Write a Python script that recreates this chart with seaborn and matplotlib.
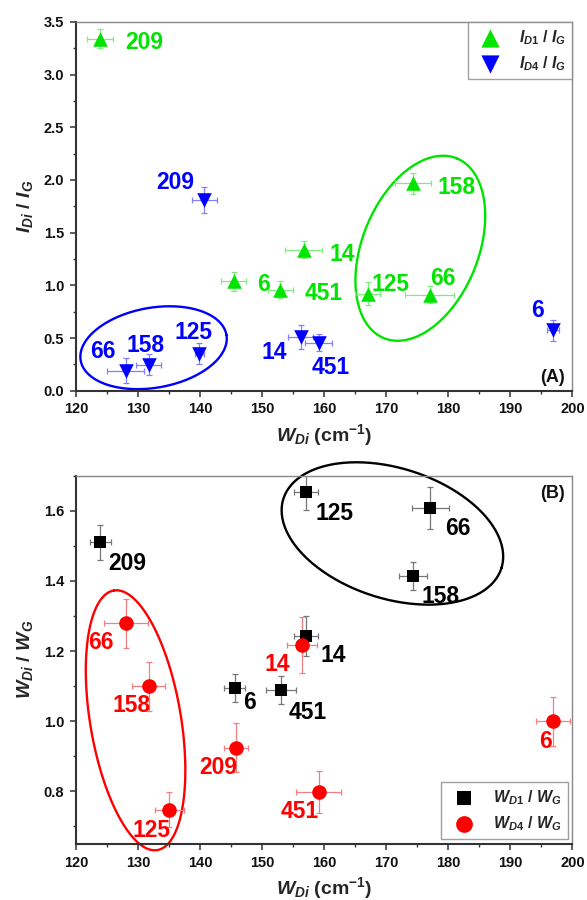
import numpy as np
import pandas as pd
import matplotlib
matplotlib.use('Agg')
import matplotlib.pyplot as plt
import seaborn as sns
from matplotlib.ticker import MultipleLocator

# ---------------- data : panel (A) ----------------
id1_labels = ['209', '6', '451', '14', '125', '66', '158']
id1_w = [123.9, 145.4, 152.9, 156.7, 167.0, 177.0, 174.3]
id1_w_err = [2.1, 2.0, 2.0, 2.95, 2.0, 4.0, 2.95]
id1_ratio = [3.34, 1.04, 0.96, 1.34, 0.92, 0.91, 1.97]
id1_ratio_err = [0.09, 0.09, 0.08, 0.08, 0.11, 0.08, 0.10]

id4_labels = ['209', '66', '158', '125', '14', '451', '6']
id4_w = [140.7, 128.0, 131.7, 139.9, 156.2, 159.1, 196.9]
id4_w_err = [2.0, 2.95, 2.0, 0.8, 2.0, 2.2, 1.0]
id4_ratio = [1.81, 0.19, 0.245, 0.35, 0.51, 0.455, 0.575]
id4_ratio_err = [0.12, 0.12, 0.10, 0.10, 0.11, 0.08, 0.10]

# ---------------- data : panel (B) ----------------
wd1_labels = ['209', '125', '66', '158', '14', '6', '451']
wd1_w = [123.9, 157.1, 177.1, 174.3, 157.1, 145.6, 153.0]
wd1_w_err = [1.7, 1.9, 3.0, 2.2, 1.9, 1.7, 2.4]
wd1_ratio = [1.51, 1.652, 1.607, 1.413, 1.243, 1.094, 1.088]
wd1_ratio_err = [0.05, 0.05, 0.06, 0.04, 0.058, 0.04, 0.04]

wd4_labels = ['66', '158', '125', '209', '14', '451', '6']
wd4_w = [128.1, 131.7, 135.05, 145.8, 156.4, 159.1, 196.9]
wd4_w_err = [3.55, 2.7, 2.3, 2.0, 2.4, 3.6, 2.7]
wd4_ratio = [1.279, 1.100, 0.748, 0.924, 1.217, 0.798, 1.000]
wd4_ratio_err = [0.07, 0.07, 0.05, 0.07, 0.08, 0.06, 0.07]

# ---------------- label offsets (pixels) ----------------
id1_off = [(44, -1), (30, -1), (44, -1.5), (39, -2), (22.6, 11.7), (13, 18.6), (44, -2)]
id4_off = [(-29, 20), (-23, 22), (-3, 22), (-6, 24), (-26, -13), (12.5, -22), (-16, 22)]
wd1_off = [(27.5, -18.6), (28, -19), (27.5, -18), (28, -18), (27, -16.7), (15, -11.5), (27.3, -19.6)]
wd4_off = [(-25, -17), (-17.5, -17), (-17.6, -18.3), (-17.7, -17.4), (-24.5, -17.3), (-19, -16.5), (-8, -18.3)]

GREEN, GREEN_L = '#00e400', '#80ec80'
BLUE, BLUE_L = '#0000ff', '#8080ff'
BLACK, BLACK_L = '#000000', '#777777'
RED, RED_L = '#ff0000', '#f08080'

sns.set_theme(style='ticks')
plt.rcParams['font.family'] = ['Liberation Sans', 'DejaVu Sans']
plt.rcParams['font.weight'] = 'bold'
plt.rcParams['mathtext.fontset'] = 'custom'
plt.rcParams['mathtext.it'] = 'Liberation Sans:italic:bold'
plt.rcParams['mathtext.rm'] = 'Liberation Sans:bold'
plt.rcParams['mathtext.bf'] = 'Liberation Sans:bold'
plt.rcParams['mathtext.sf'] = 'Liberation Sans:bold'

fig = plt.figure(figsize=(5.87, 9.0), dpi=100)
axA = fig.add_axes([0.1295, 0.5659, 0.8455, 0.4097])
axB = fig.add_axes([0.1295, 0.0622, 0.8455, 0.4094])


def style_axes(ax, ylim, ymaj, ymin):
    ax.set_xlim(120, 200)
    ax.set_ylim(*ylim)
    ax.xaxis.set_major_locator(MultipleLocator(10))
    ax.xaxis.set_minor_locator(MultipleLocator(5))
    ax.yaxis.set_major_locator(MultipleLocator(ymaj))
    ax.yaxis.set_minor_locator(MultipleLocator(ymin))
    ax.yaxis.set_major_formatter(matplotlib.ticker.FormatStrFormatter('%.1f'))
    ax.tick_params(which='major', direction='out', length=4.5, width=1.1,
                   labelsize=10.5, pad=4, color='#333333', labelcolor='#111111')
    ax.tick_params(which='minor', direction='out', length=2.5, width=1.0, color='#333333')
    ax.tick_params(top=False, right=False, which='both')
    for s in ['left', 'bottom']:
        ax.spines[s].set_color('#333333')
        ax.spines[s].set_linewidth(1.5)
    for s in ['top', 'right']:
        ax.spines[s].set_color('#888888')
        ax.spines[s].set_linewidth(1.0)
        ax.spines[s].set_visible(True)
    for lab in ax.get_xticklabels() + ax.get_yticklabels():
        lab.set_fontweight('bold')


def series(ax, x, y, xe, ye, labels, offs, color, ecolor, marker, ms, name):
    df = pd.DataFrame({'x': x, 'y': y})
    ax.errorbar(x, y, xerr=xe, yerr=ye, fmt='none', ecolor=ecolor,
                elinewidth=0.9, capsize=2.5, capthick=0.9, zorder=2)
    sns.scatterplot(data=df, x='x', y='y', ax=ax, color=color, marker=marker,
                    s=ms, edgecolor=color, linewidth=0, zorder=3, label=name)
    for xi, yi, lab, (dx, dy) in zip(x, y, labels, offs):
        ax.annotate(lab, (xi, yi), xytext=(dx, dy), textcoords='offset pixels',
                    ha='center', va='center_baseline', fontsize=16.5,
                    fontweight='bold', color=color, zorder=4)


def draw_ellipse(ax, cx, cy, a_px, b_px, ang, color):
    bb = ax.get_window_extent()
    x0, x1 = ax.get_xlim()
    y0, y1 = ax.get_ylim()
    xpx = bb.width / (x1 - x0)
    ypx = bb.height / (y1 - y0)
    t = np.linspace(0, 2 * np.pi, 400)
    th = np.deg2rad(ang)
    dx = a_px * np.cos(t) * np.cos(th) - b_px * np.sin(t) * np.sin(th)
    dy = a_px * np.cos(t) * np.sin(th) + b_px * np.sin(t) * np.cos(th)
    ax.plot(cx + dx / xpx, cy + dy / ypx, color=color, lw=1.7, clip_on=False, zorder=1)


# ---------------- panel A ----------------
style_axes(axA, (0, 3.5), 0.5, 0.25)
series(axA, id1_w, id1_ratio, id1_w_err, id1_ratio_err, id1_labels, id1_off,
       GREEN, GREEN_L, '^', 110, r'$I_{\mathit{D1}}$ / $I_G$')
series(axA, id4_w, id4_ratio, id4_w_err, id4_ratio_err, id4_labels, id4_off,
       BLUE, BLUE_L, 'v', 110, r'$I_{\mathit{D4}}$ / $I_G$')
draw_ellipse(axA, 132.5, 0.408, 74, 40, 10, BLUE)
draw_ellipse(axA, 175.5, 1.352, 97, 58, 68, GREEN)
axA.set_xlabel(r'$W_{Di}$ (cm$^{-1}$)', fontsize=14, fontweight='bold', labelpad=4)
axA.set_ylabel(r'$I_{Di}$ / $I_G$', fontsize=14, fontweight='bold', labelpad=6)
axA.text(0.985, 0.012, '(A)', transform=axA.transAxes, ha='right', va='bottom',
         fontsize=13, fontweight='bold', color='#111111')
legA = axA.legend(loc='upper right', borderaxespad=0, fontsize=11.5, frameon=True,
                  fancybox=False, edgecolor='#888888', handletextpad=0.8,
                  borderpad=0.4, labelspacing=0.45, markerscale=1.25)
legA.get_frame().set_linewidth(1.0)

# ---------------- panel B ----------------
style_axes(axB, (0.65, 1.7), 0.2, 0.1)
series(axB, wd1_w, wd1_ratio, wd1_w_err, wd1_ratio_err, wd1_labels, wd1_off,
       BLACK, BLACK_L, 's', 75, r'$W_{\mathit{D1}}$ / $W_G$')
series(axB, wd4_w, wd4_ratio, wd4_w_err, wd4_ratio_err, wd4_labels, wd4_off,
       RED, RED_L, 'o', 110, r'$W_{\mathit{D4}}$ / $W_G$')
draw_ellipse(axB, 171.0, 1.535, 114.4, 65.2, -17.7, BLACK)
draw_ellipse(axB, 129.6, 1.0026, 131.6, 45.4, 99.5, RED)
axB.set_xlabel(r'$W_{Di}$ (cm$^{-1}$)', fontsize=14, fontweight='bold', labelpad=4)
axB.set_ylabel(r'$W_{Di}$ / $W_G$', fontsize=14, fontweight='bold', labelpad=6)
axB.text(0.985, 0.975, '(B)', transform=axB.transAxes, ha='right', va='top',
         fontsize=13, fontweight='bold', color='#111111')
legB = axB.legend(loc='lower right', borderaxespad=0.3, fontsize=11.5, frameon=True,
                  fancybox=False, edgecolor='#888888', handletextpad=0.8,
                  borderpad=0.4, labelspacing=0.45, markerscale=1.15)
legB.get_frame().set_linewidth(1.0)

fig.savefig('out.png', dpi=100, facecolor='white')
